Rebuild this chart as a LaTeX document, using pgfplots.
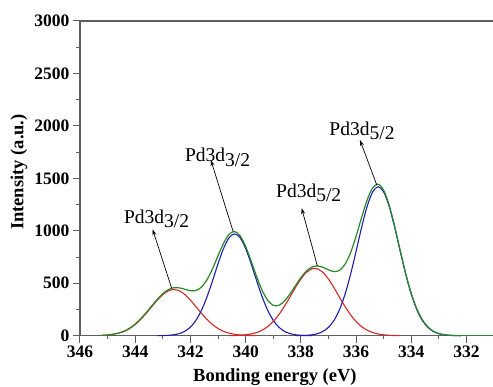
\documentclass[border=0pt]{standalone}
\usepackage{pgfplots}
\pgfplotsset{compat=1.18}
\usepackage{fontspec}
\setmainfont{Liberation Serif}
\usetikzlibrary{arrows.meta}

\definecolor{axgray}{RGB}{95,95,95}
\definecolor{envgreen}{RGB}{40,135,40}
\definecolor{fitblue}{RGB}{30,30,165}
\definecolor{fitred}{RGB}{210,40,40}

\newcommand{\pdlabel}[1]{Pd3d\raisebox{-4.5pt}{#1}}

\begin{document}
\begin{tikzpicture}
\useasboundingbox (0,0) rectangle (493pt,387pt);
\begin{axis}[
  at={(80pt,51.3pt)}, anchor=south west,
  scale only axis, width=413pt, height=314.7pt,
  x dir=reverse,
  xmin=331.04, xmax=346, ymin=0, ymax=3000,
  enlargelimits=false, clip=false,
  axis x line*=box, axis y line*=left,
  axis line style={draw=axgray, line width=1.6pt},
  xtick={332,334,...,346}, ytick={0,500,...,3000},
  minor x tick num=1, minor y tick num=1,
  xtick pos=left, ytick pos=left,
  tick align=outside,
  major tick length=7pt, minor tick length=3.5pt,
  tick style={draw=axgray, line width=1pt},
  ticklabel style={font=\fontsize{17.5}{17.5}\selectfont\bfseries},
  /pgf/number format/assume math mode=true,
  /pgf/number format/1000 sep={},
  xlabel={Bonding energy (eV)},
  ylabel={Intensity (a.u.)},
  every axis x label/.style={at={(axis description cs:0.472,-0.131)}, anchor=center,
    font=\fontsize{18.5}{18.5}\selectfont\bfseries},
  every axis y label/.style={at={(axis description cs:-0.148,0.52)}, anchor=center, rotate=90,
    font=\fontsize{18.5}{18.5}\selectfont\bfseries},
]

% Pd 3d3/2 component (high binding energy, red)
\addplot[fitred, line width=1.1pt, smooth] coordinates {
(345.2,3.3) (345.0,6.7) (344.8,13.1) (344.6,24.1) (344.4,41.9) (344.2,68.6)
(344.0,106.1) (343.8,154.7) (343.6,212.9) (343.4,276.5) (343.2,338.8) (343.0,391.8)
(342.8,427.4) (342.6,440) (342.4,427.4) (342.2,391.8) (342.0,338.8) (341.8,276.5)
(341.6,212.9) (341.4,154.7) (341.2,106.1) (341.0,68.6) (340.8,41.9) (340.6,24.1)
(340.4,13.1) (340.2,6.7) (340.0,3.3) (339.8,1.5) (339.6,0)
};

% Pd 3d3/2 component (blue)
\addplot[fitblue, line width=1.1pt, smooth] coordinates {
(343.2,0.5) (343.0,1.4) (342.8,3.8) (342.6,9.1) (342.4,20.5) (342.2,42.6)
(342.0,82.1) (341.8,146.4) (341.6,241.9) (341.4,369.7) (341.2,523.2) (341.0,685.5)
(340.8,831.3) (340.6,933.3) (340.4,970) (340.2,933.3) (340.0,831.3) (339.8,685.5)
(339.6,523.2) (339.4,369.7) (339.2,241.9) (339.0,146.4) (338.8,82.1) (338.6,42.6)
(338.4,20.5) (338.2,9.1) (338.0,3.8) (337.8,1.4) (337.6,0.5)
};

% Pd 3d5/2 component (red)
\addplot[fitred, line width=1.1pt, smooth] coordinates {
(340.6,0.8) (340.4,1.9) (340.2,4.1) (340.0,8.5) (339.8,16.5) (339.6,30.3)
(339.4,52.8) (339.2,86.9) (339.0,135.3) (338.8,199.3) (338.6,277.9) (338.4,366.5)
(338.2,457.4) (338.0,540.0) (337.8,603.2) (337.6,637.6) (337.5,642) (337.4,637.6)
(337.2,603.2) (337.0,540.0) (336.8,457.4) (336.6,366.5) (336.4,277.9) (336.2,199.3)
(336.0,135.3) (335.8,86.9) (335.6,52.8) (335.4,30.3) (335.2,16.5) (335.0,8.5)
(334.8,4.1) (334.6,1.9) (334.4,0.8)
};

% Pd 3d5/2 component (blue)
\addplot[fitblue, line width=1.1pt, smooth] coordinates {
(338.2,0.5) (338.0,1.3) (337.8,3.5) (337.6,8.5) (337.4,19.2) (337.2,40.6)
(337.0,79.7) (336.8,145.8) (336.6,248.6) (336.4,394.8) (336.2,583.8) (336.0,804.0)
(335.8,1031.1) (335.6,1231.7) (335.4,1370.4) (335.2,1420) (335.0,1370.4) (334.8,1231.7)
(334.6,1031.1) (334.4,804.0) (334.2,583.8) (334.0,394.8) (333.8,248.6) (333.6,145.8)
(333.4,79.7) (333.2,40.6) (333.0,19.2) (332.8,8.5) (332.6,3.5) (332.4,1.3) (332.2,0.5)
};

% Envelope of the fit (green)
\addplot[envgreen, line width=1.2pt, smooth] coordinates {
(345.2,3.5) (345.0,7.0) (344.8,13.8) (344.6,25.3) (344.4,44.0) (344.2,72.0)
(344.0,111.4) (343.8,162.6) (343.6,220.9) (343.4,284.5) (343.2,346.8) (343.0,401.2)
(342.8,439.2) (342.6,457.1) (342.4,455.9) (342.2,442.4) (342.0,428.9) (341.8,430.9)
(341.6,462.8) (341.4,532.4) (341.2,637.3) (341.0,762.1) (340.8,881.2) (340.6,965.4)
(340.4,993.0) (340.2,952.1) (340.0,851.1) (339.8,711.5) (339.6,561.5) (339.4,430.5)
(339.2,336.8) (339.0,289.7) (338.8,289.4) (338.6,328.5) (338.4,395.2) (338.2,475.0)
(338.0,553.1) (337.8,616.1) (337.6,654.1) (337.4,664.8) (337.2,651.8) (337.0,627.7)
(336.8,611.2) (336.6,623.1) (336.4,680.7) (336.2,791.1) (336.0,947.3) (335.8,1126.0)
(335.6,1292.5) (335.4,1408.7) (335.2,1444.5) (335.0,1386.9) (334.8,1243.8) (334.6,1041.0)
(334.4,812.0) (334.2,591.8) (334.0,402.8) (333.8,256.6) (333.6,153.1) (333.4,83.7)
(333.2,42.6) (333.0,20.2) (332.8,8.9) (332.6,3.7) (332.4,1.4) (332.2,0)
};
\addplot[envgreen, line width=1.2pt] coordinates {(332.2,0) (331.04,0)};

% Peak labels with arrows
\begin{scope}[font=\fontsize{19.5}{19.5}\selectfont]
\node[anchor=base west, inner sep=0pt] at (axis cs:344.41,1071.5) {\pdlabel{3/2}};
\node[anchor=base west, inner sep=0pt] at (axis cs:342.20,1658.7) {\pdlabel{3/2}};
\node[anchor=base west, inner sep=0pt] at (axis cs:338.90,1322) {\pdlabel{5/2}};
\node[anchor=base west, inner sep=0pt] at (axis cs:336.97,1913) {\pdlabel{5/2}};
\end{scope}
\begin{scope}[-{Stealth[length=6pt,width=4pt]}, line width=0.7pt]
\draw (axis cs:342.68,452) -- (axis cs:343.37,1014);
\draw (axis cs:340.45,991) -- (axis cs:341.26,1675);
\draw (axis cs:337.40,664) -- (axis cs:337.97,1215);
\draw (axis cs:335.25,1437) -- (axis cs:335.86,1866);
\end{scope}
\end{axis}
\end{tikzpicture}
\end{document}
